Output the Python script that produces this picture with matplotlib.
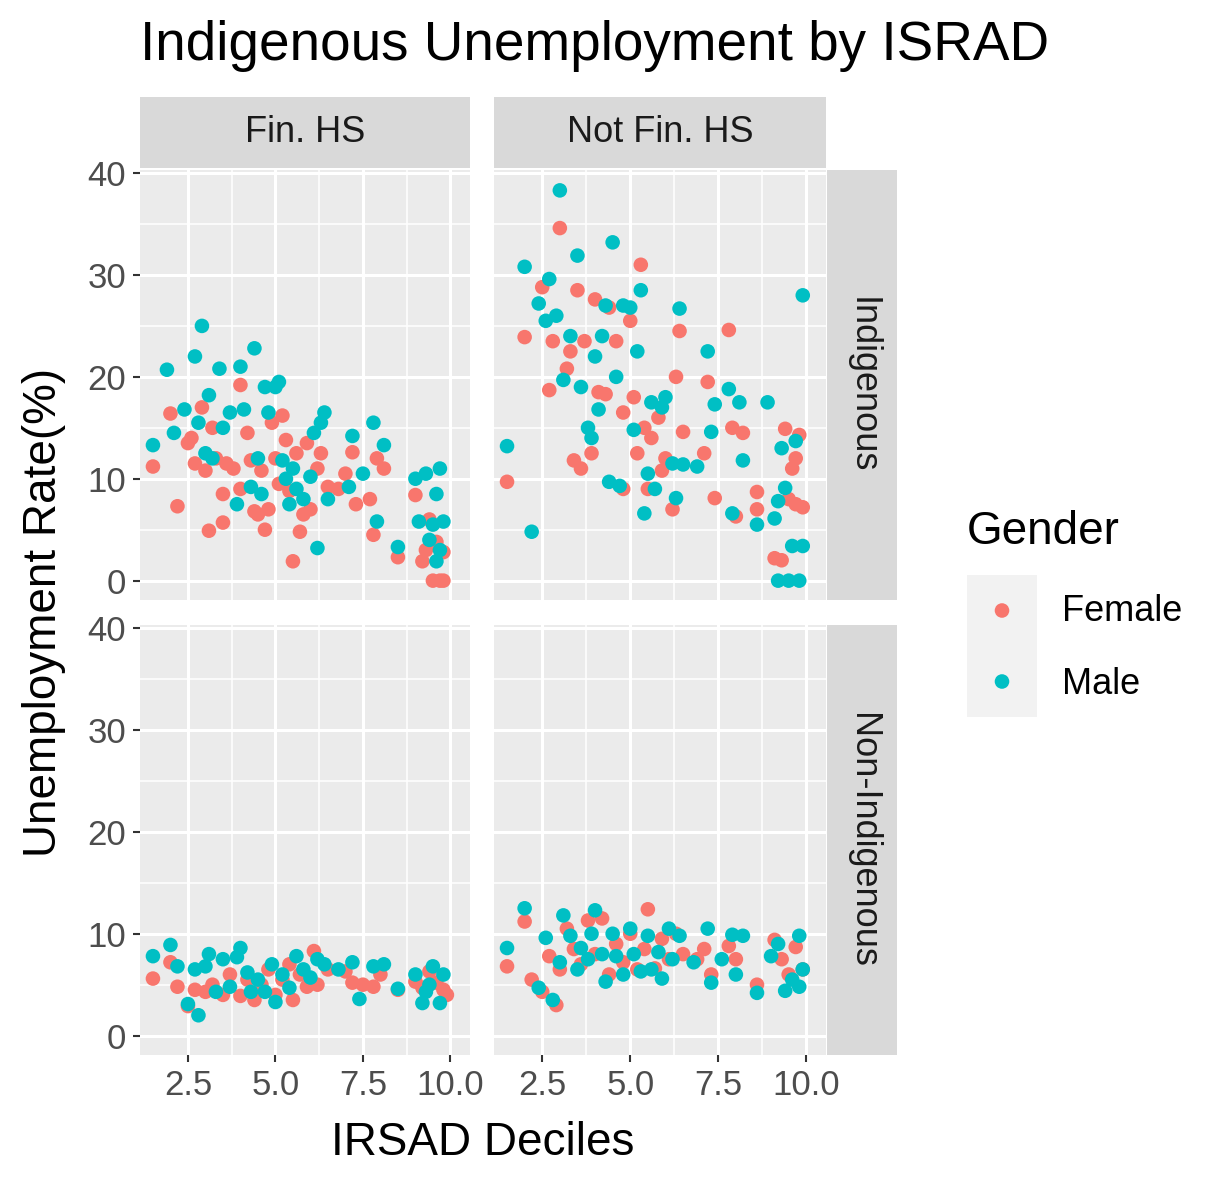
import matplotlib.pyplot as plt

plt.rcParams['font.family'] = ['Liberation Sans', 'DejaVu Sans']

# (decile, rate) per panel and gender
ind_fin_f = [(1.5,11.2),(2.0,16.4),(2.2,7.3),(2.5,13.5),(2.6,14),(2.7,11.5),(2.9,17),(3.0,10.8),(3.1,4.9),(3.2,15),(3.3,12),(3.5,8.5),(3.5,5.7),(3.6,11.5),(3.8,11),(4.0,19.2),(4.0,9),(4.2,14.5),(4.3,11.8),(4.4,6.8),(4.5,6.5),(4.6,10.8),(4.7,5),(4.8,7),(4.9,15.5),(5.0,12),(5.1,9.5),(5.2,16.2),(5.3,13.8),(5.4,8.8),(5.5,1.9),(5.6,12.5),(5.7,4.8),(5.8,6.5),(5.9,13.5),(6.0,7),(6.2,11),(6.3,12.5),(6.5,9.2),(6.8,9),(7.0,10.5),(7.2,12.6),(7.3,7.5),(7.7,8),(7.8,4.5),(7.9,12),(8.1,11),(8.5,2.3),(9.0,8.4),(9.2,1.9),(9.3,3),(9.5,0),(9.6,3.8),(9.7,0),(9.8,0),(9.8,2.8),(9.4,6)]
ind_fin_m = [(1.5,13.3),(1.9,20.7),(2.1,14.5),(2.4,16.8),(2.7,22),(2.8,15.5),(2.9,25),(3.0,12.5),(3.1,18.2),(3.2,12),(3.4,20.8),(3.5,15),(3.7,16.5),(3.9,7.5),(4.0,21),(4.1,16.8),(4.3,9.2),(4.4,22.8),(4.5,12),(4.6,8.5),(4.7,19),(4.8,16.5),(5.0,19),(5.1,19.5),(5.2,11.8),(5.3,10),(5.4,7.5),(5.5,11),(5.6,9),(5.8,8),(6.0,10.2),(6.1,14.5),(6.2,3.2),(6.3,15.5),(6.4,16.5),(6.5,8),(7.1,9.2),(7.2,14.2),(7.5,10.5),(7.8,15.5),(7.9,5.8),(8.1,13.3),(8.5,3.3),(9.0,10),(9.1,5.8),(9.3,10.5),(9.4,4),(9.5,5.5),(9.6,8.5),(9.7,11),(9.7,3),(9.8,5.8),(9.6,1.9)]
ind_not_f = [(1.5,9.7),(2.0,23.9),(2.5,28.8),(2.7,18.7),(2.8,23.5),(3.0,34.6),(3.2,20.8),(3.3,22.5),(3.4,11.8),(3.5,28.5),(3.6,11),(3.7,23.5),(3.9,12.5),(4.0,27.6),(4.1,18.5),(4.3,18.3),(4.4,26.8),(4.6,23.5),(4.8,16.5),(4.8,9),(5.0,25.5),(5.1,18),(5.2,12.5),(5.3,31),(5.4,15),(5.5,9),(5.6,14),(5.8,16),(5.9,10.8),(6.0,12),(6.2,7),(6.3,20),(6.4,24.5),(6.5,14.6),(7.1,12.5),(7.2,19.5),(7.4,8.1),(7.8,24.6),(7.9,15),(8.0,6.3),(8.2,14.5),(8.6,8.7),(8.6,7),(9.1,2.2),(9.3,2),(9.4,14.9),(9.5,8),(9.6,11),(9.7,7.5),(9.8,14.3),(9.9,7.2),(9.7,12)]
ind_not_m = [(1.5,13.2),(2.0,30.8),(2.2,4.8),(2.4,27.2),(2.6,25.5),(2.7,29.6),(2.9,26),(3.0,38.3),(3.1,19.7),(3.3,24),(3.5,31.9),(3.6,19),(3.8,15),(3.9,14),(4.0,22),(4.1,16.8),(4.2,24),(4.3,27),(4.4,9.7),(4.5,33.2),(4.6,20),(4.7,9.3),(4.8,27),(5.0,26.8),(5.1,14.8),(5.2,22.5),(5.3,28.5),(5.4,6.6),(5.5,10.5),(5.6,17.5),(5.7,9),(5.9,17),(6.0,18),(6.2,11.5),(6.3,8.1),(6.4,26.7),(6.5,11.4),(6.9,11.2),(7.2,22.5),(7.3,14.6),(7.4,17.3),(7.8,18.8),(7.9,6.6),(8.1,17.5),(8.2,11.8),(8.6,5.5),(8.9,17.5),(9.1,6.1),(9.2,0),(9.3,13),(9.4,9.1),(9.5,0),(9.6,3.4),(9.7,13.7),(9.8,0),(9.9,3.4),(9.9,28),(9.2,7.8)]
non_fin_f = [(1.5,5.6),(2.0,7.2),(2.2,4.8),(2.5,2.9),(2.7,4.5),(3.0,4.3),(3.2,5),(3.5,4),(3.7,6),(4.0,3.9),(4.2,5.5),(4.4,3.5),(4.6,5),(4.8,6.5),(5.0,4),(5.2,5.5),(5.4,7),(5.5,3.5),(5.7,6),(5.9,4.8),(6.1,8.3),(6.2,5),(6.5,6.5),(7.0,6.3),(7.2,5.2),(7.5,5),(7.8,4.8),(8.0,6),(8.5,4.5),(9.0,5.3),(9.2,4.7),(9.4,6.3),(9.6,5.2),(9.8,4.5),(9.9,4)]
non_fin_m = [(1.5,7.8),(2.0,8.9),(2.2,6.8),(2.5,3.1),(2.7,6.5),(2.8,2),(3.0,6.8),(3.1,8),(3.3,4.3),(3.5,7.5),(3.7,4.8),(3.9,7.7),(4.0,8.6),(4.2,6.2),(4.3,4.3),(4.5,5.5),(4.7,4.3),(4.9,7),(5.0,3.3),(5.2,6),(5.4,4.7),(5.6,7.8),(5.8,6.5),(6.0,5.7),(6.2,7.5),(6.4,7),(6.8,6.5),(7.2,7.2),(7.4,3.6),(7.8,6.8),(8.1,7),(8.5,4.6),(9.0,6),(9.2,3.2),(9.4,5),(9.5,6.8),(9.7,3.2),(9.8,6),(9.3,4.3)]
non_not_f = [(1.5,6.8),(2.0,11.2),(2.2,5.5),(2.5,4.3),(2.7,7.8),(2.9,3),(3.0,6.5),(3.2,10.5),(3.4,8.5),(3.6,7),(3.8,11.3),(4.0,8),(4.2,11.5),(4.4,6),(4.6,9),(4.8,7.2),(5.0,10),(5.2,6.5),(5.4,8.5),(5.5,12.4),(5.7,6.6),(5.9,9.5),(6.1,7.5),(6.3,10),(6.5,8),(6.9,7.5),(7.1,8.5),(7.3,6),(7.8,8.8),(8.0,7.5),(8.6,5),(9.1,9.4),(9.3,7.5),(9.5,6),(9.7,8.7),(9.9,6.5)]
non_not_m = [(1.5,8.6),(2.0,12.5),(2.4,4.7),(2.6,9.6),(2.8,3.5),(3.0,7.2),(3.1,11.8),(3.3,9.8),(3.5,6.5),(3.6,8.6),(3.8,7.5),(3.9,10),(4.0,12.3),(4.2,8),(4.3,5.3),(4.5,10),(4.6,7.8),(4.8,6),(5.0,10.5),(5.1,8),(5.3,6.3),(5.5,9.8),(5.6,6.5),(5.8,8.2),(5.9,5.6),(6.1,10.5),(6.2,7.5),(6.4,9.8),(6.8,7.2),(7.2,10.5),(7.3,5.2),(7.6,7.5),(7.9,9.9),(8.0,6),(8.2,9.8),(8.6,4.2),(9.0,7.8),(9.2,9),(9.4,4.4),(9.6,5.5),(9.8,9.8),(9.8,4.8),(9.9,6.5)]

col_labels = ['Fin. HS', 'Not Fin. HS']
row_labels = ['Indigenous', 'Non-Indigenous']
panels = {(0, 0): (ind_fin_f, ind_fin_m), (0, 1): (ind_not_f, ind_not_m),
          (1, 0): (non_fin_f, non_fin_m), (1, 1): (non_not_f, non_not_m)}
FEMALE = '#F8766D'
MALE = '#00BFC4'

W, H = 1228, 1190
fig = plt.figure(figsize=(W / 100, H / 100), dpi=100)

def px(l, t, r, b):
    return [l / W, 1 - b / H, (r - l) / W, (b - t) / H]

def bare(ax, color):
    ax.set_facecolor(color)
    ax.set_xticks([]); ax.set_yticks([])
    for s in ax.spines.values():
        s.set_visible(False)

xl = [(140, 470), (494, 826)]
yt = [(170, 600), (625, 1055)]

for (r, c), (fem, mal) in panels.items():
    ax = fig.add_axes(px(xl[c][0], yt[r][0], xl[c][1], yt[r][1]))
    ax.set_facecolor('#EBEBEB')
    for s in ax.spines.values():
        s.set_visible(False)
    ax.set_xlim(1.13, 10.56)
    ax.set_ylim(-1.9, 40.3)
    ax.set_xticks([2.5, 5, 7.5, 10])
    ax.set_yticks([0, 10, 20, 30, 40])
    ax.set_xticks([3.75, 6.25, 8.75], minor=True)
    ax.set_yticks([5, 15, 25, 35], minor=True)
    ax.grid(True, which='major', color='white', lw=2.2)
    ax.grid(True, which='minor', color='white', lw=1.1)
    ax.set_axisbelow(True)
    ax.tick_params(which='minor', length=0)
    ax.tick_params(which='major', length=5, width=1.5, color='#333333',
                   labelsize=25, labelcolor='#4D4D4D', pad=5)
    for data, col in ((fem, FEMALE), (mal, MALE)):
        ax.scatter([p[0] for p in data], [p[1] for p in data], s=110,
                   color=col, edgecolors='none', zorder=3)
    if c == 1:
        ax.tick_params(axis='y', length=0, labelleft=False)
    if r == 0:
        ax.tick_params(axis='x', length=0, labelbottom=False)

    if r == 0:
        sax = fig.add_axes(px(xl[c][0], 97, xl[c][1], 168))
        bare(sax, '#D9D9D9')
        sax.text(0.5, 0.5, col_labels[c], ha='center', va='center',
                 fontsize=26, color='#1A1A1A', transform=sax.transAxes)
    if c == 1:
        sax = fig.add_axes(px(827, yt[r][0], 897, yt[r][1]))
        bare(sax, '#D9D9D9')
        sax.text(0.5, 0.5, row_labels[r], ha='center', va='center', rotation=-90,
                 fontsize=26, color='#1A1A1A', transform=sax.transAxes)

fig.text(140 / W, 1 - 46 / H, 'Indigenous Unemployment by ISRAD', fontsize=39.5,
         ha='left', va='center')
fig.text(483 / W, 1 - 1143 / H, 'IRSAD Deciles', fontsize=33, ha='center', va='center')
fig.text(44 / W, 1 - 612 / H, 'Unemployment Rate(%)', fontsize=33, ha='center',
         va='center', rotation=90)

# legend
fig.text(967 / W, 1 - 532 / H, 'Gender', fontsize=33, ha='left', va='center')
lax = fig.add_axes(px(967, 575, 1037, 717))
lax.set_xlim(0, 1); lax.set_ylim(0, 2)
bare(lax, '#F2F2F2')
lax.scatter([0.5], [1.5], s=110, color=FEMALE, edgecolors='none')
lax.scatter([0.5], [0.5], s=110, color=MALE, edgecolors='none')
fig.text(1062 / W, 1 - 612 / H, 'Female', fontsize=26, ha='left', va='center')
fig.text(1062 / W, 1 - 685 / H, 'Male', fontsize=26, ha='left', va='center')

fig.savefig('out.png', dpi=100)
